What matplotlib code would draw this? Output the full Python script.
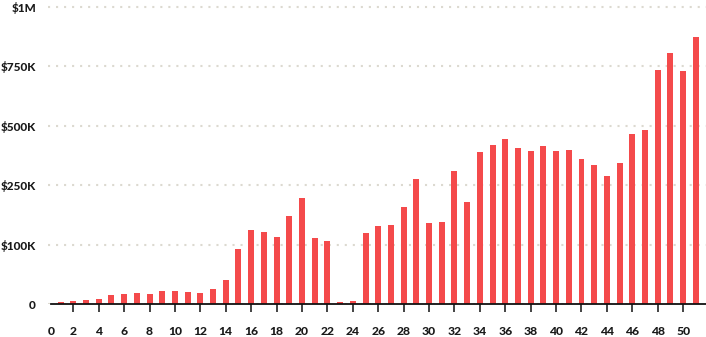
import numpy as np
import matplotlib
matplotlib.use("Agg")
import matplotlib.pyplot as plt
import matplotlib.transforms as mtransforms
from matplotlib.ticker import FixedLocator, FuncFormatter

# Weekly values (week number -> dollars)
weeks = list(range(1, 52))
values = [
    4000, 5600, 7300, 9000, 16000, 17600, 19000, 17600, 22700, 22700,
    21000, 19000, 26000, 41500, 92700, 136700, 131700, 119000, 171700, 219000,
    116700, 109000, 3500, 5500, 129000, 146700, 149000, 194000, 274000, 154000,
    157000, 308000, 206700, 388500, 418000, 443600, 405500, 392800, 414000, 392800,
    397000, 359000, 333000, 287000, 342000, 464800, 481800, 732000, 803000, 728000,
    873700,
]

y_ticks = [0, 100000, 250000, 500000, 750000, 1000000]
y_labels = ["0", "$100K", "$250K", "$500K", "$750K", "$1M"]
x_ticks = list(range(0, 52, 2))

# the y axis puts every tick at equal spacing, linear in between
nodes = np.array([0, 100000, 250000, 500000, 750000, 1000000, 1250000])
steps = np.arange(len(nodes), dtype=float)

def fwd(v):
    return np.interp(v, nodes, steps)

def inv(s):
    return np.interp(s, steps, nodes)

plt.rcParams['font.family'] = ['Lato', 'DejaVu Sans']

fig = plt.figure(figsize=(7.06, 3.37), dpi=100)
ax = fig.add_axes([47.9 / 706, 32.7 / 337, 1 - 47.9 / 706, 304.3 / 337])

ax.set_yscale('function', functions=(fwd, inv))
ax.bar(weeks, values, width=0.47, color='#f44a4b', zorder=2)

ax.set_xlim(0, 51.8)
ax.set_ylim(0, 1027500)

ax.yaxis.set_major_locator(FixedLocator(y_ticks))
ax.yaxis.set_major_formatter(FuncFormatter(lambda v, p: y_labels[y_ticks.index(int(round(v)))] if int(round(v)) in y_ticks else ""))
ax.yaxis.set_minor_locator(FixedLocator([]))
ax.set_xticks(x_ticks)
ax.set_xticklabels([str(t) for t in x_ticks])

ax.grid(axis='y', linestyle=(0, (1, 2.85)), color='#dcd9d0', linewidth=1.5, zorder=0)
for s in ['top', 'right', 'left']:
    ax.spines[s].set_visible(False)
ax.spines['bottom'].set_linewidth(1.3)
ax.spines['bottom'].set_color('#111111')
ax.spines['bottom'].set_zorder(3)
ax.spines['bottom'].set_bounds(0.22, 51.8)

ax.tick_params(axis='y', length=0, pad=8.6, labelsize=8.5, labelcolor='#1a1a1a')
ax.tick_params(axis='x', length=5.5, width=1.1, color='#111111', direction='out',
               pad=10, labelsize=8.7, labelcolor='#1a1a1a')
for lab in ax.get_yticklabels() + ax.get_xticklabels():
    lab.set_fontweight('black')

# no tick mark at 0, label nudged right
xt = ax.xaxis.get_major_ticks()[0]
xt.tick1line.set_visible(False)
xt.label1.set_transform(xt.label1.get_transform() + mtransforms.ScaledTranslation(3.8 / 100, 0, fig.dpi_scale_trans))

fig.savefig("out.png", dpi=100)
